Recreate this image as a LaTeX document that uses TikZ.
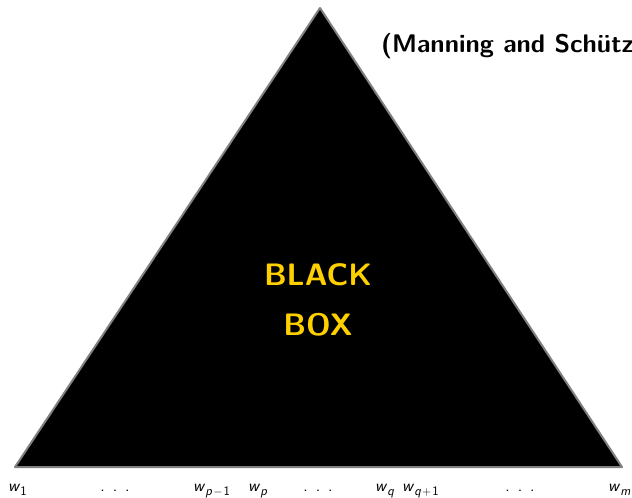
\documentclass[tikz,border=0pt]{standalone}
\usepackage{fontspec}
\definecolor{gold}{RGB}{255,208,0}
\definecolor{edgegray}{RGB}{128,128,128}
\newcommand\sw{\textsf{\slshape w}}
\newcommand\si[1]{\textsf{\slshape #1}}
\newcommand\ssub[1]{\raisebox{-4pt}{\fontsize{13}{13}\selectfont\sffamily #1}}
\newcommand\mydots{.\hspace{8pt}.\hspace{8pt}.}
\begin{document}
\begin{tikzpicture}[x=1pt,y=-1pt,
  word/.style={anchor=base west,font=\fontsize{17}{18}\selectfont\sffamily,inner sep=0pt},
  dotsn/.style={anchor=base,font=\fontsize{17}{18}\selectfont\sffamily,inner sep=0pt},
  big/.style={font=\fontsize{31}{36}\selectfont\sffamily\bfseries,inner sep=0pt,anchor=base}]
\useasboundingbox (0,0) rectangle (632,498);
\coordinate (apex) at (320,8);
\coordinate (bl) at (15,467);
\coordinate (br) at (622,467);
\fill[black] (apex) -- (bl) -- (br) -- cycle;
\draw[edgegray,line width=2pt,line join=round] (apex) -- (bl) -- (br) -- cycle;
\node[big,gold] (black) at (318,285) {BLACK};
\node[big,gold] (box) at (318,335) {BOX};
\node[anchor=base west,inner sep=0pt,font=\fontsize{25.5}{30}\selectfont\sffamily\bfseries] (cite) at (381,52) {(Manning and Schütze, 1999)};
\node[word] (w1) at (8,491) {\sw\ssub{1}};
\node[dotsn] (d1) at (115,491) {\mydots};
\node[word] (wp1) at (193,491) {\sw\ssub{\si{p}\kern1pt$-$\kern1pt1}};
\node[word] (wp) at (248,491) {\sw\ssub{\si{p}}};
\node[dotsn] (d2) at (318,491) {\mydots};
\node[word] (wq) at (375,491) {\sw\ssub{\si{q}}};
\node[word] (wq1) at (402,491) {\sw\ssub{\si{q}\kern1pt$+$\kern1pt1}};
\node[dotsn] (d3) at (520,491) {\mydots};
\node[word] (wm) at (608,491) {\sw\ssub{\si{m}}};
\end{tikzpicture}
\end{document}
